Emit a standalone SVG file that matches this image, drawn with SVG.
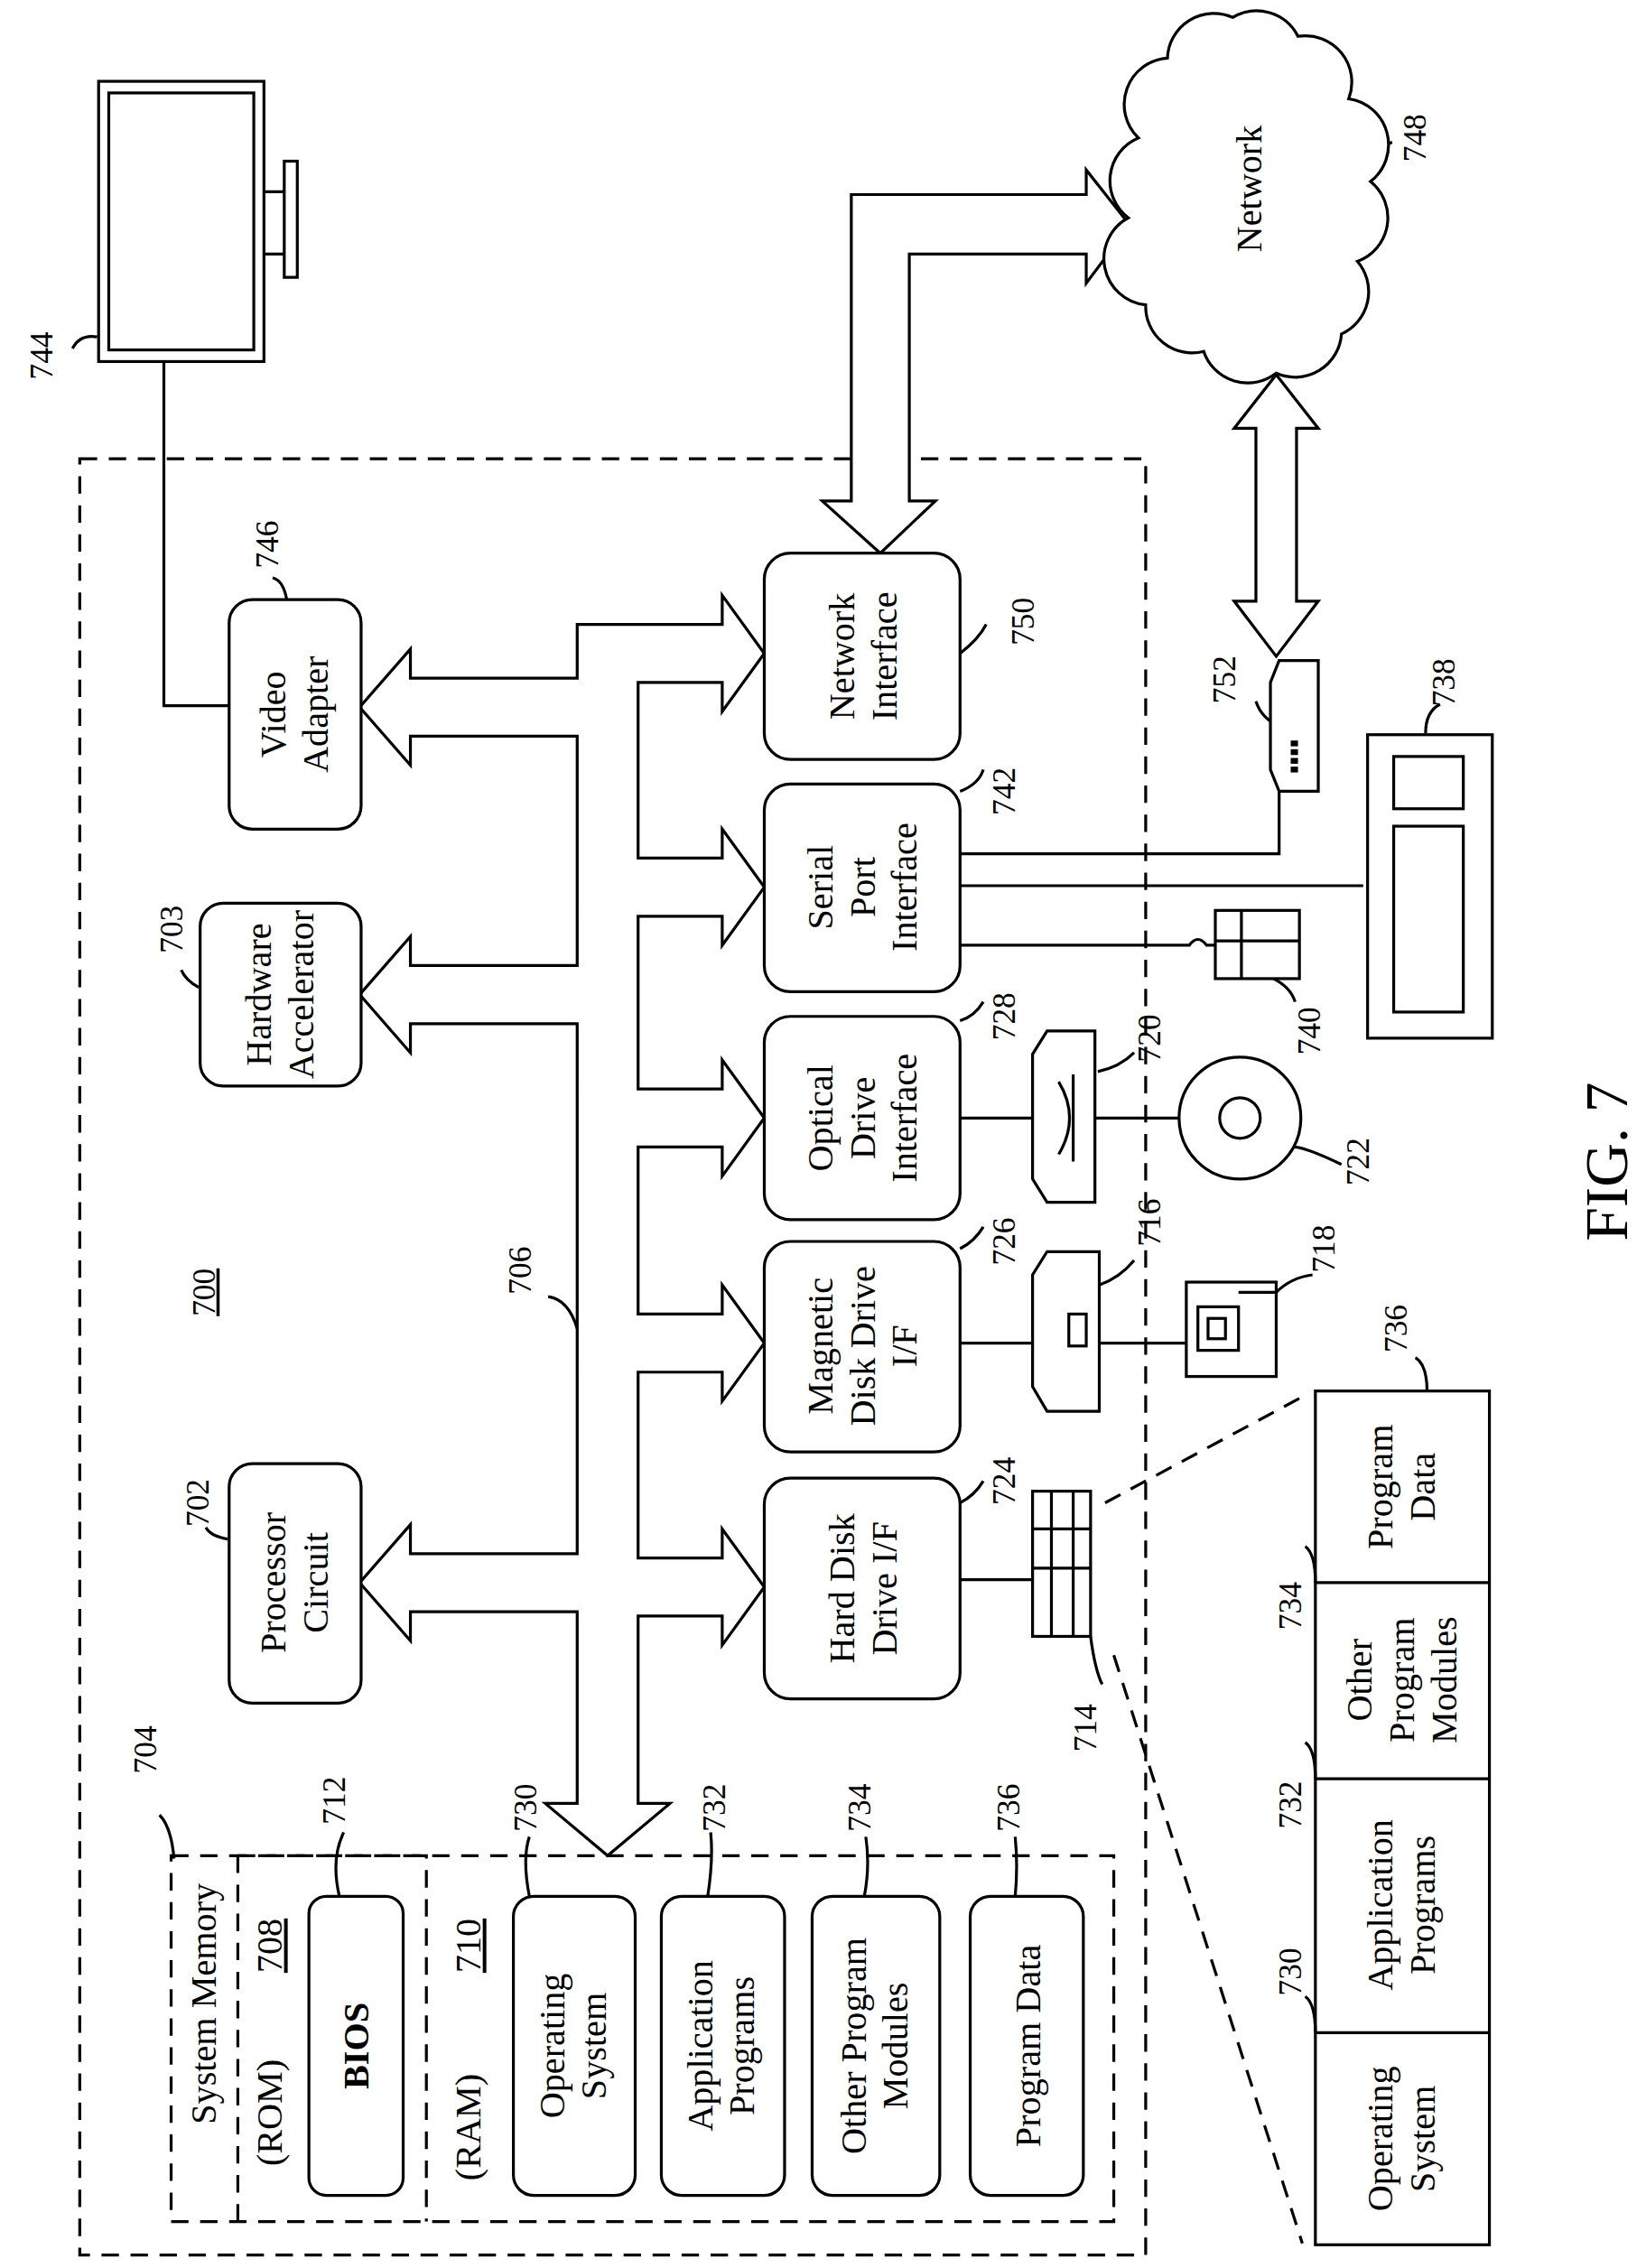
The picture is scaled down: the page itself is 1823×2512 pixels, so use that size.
<svg xmlns="http://www.w3.org/2000/svg" width="1823" height="2512" viewBox="0 0 1823 2512">
<style>
.s{fill:none;stroke:#000;stroke-width:2}
.d{fill:none;stroke:#000;stroke-width:2;stroke-dasharray:12 8}
.n{fill:#fff;stroke:#000;stroke-width:2}
text{font-family:"Liberation Serif","Times New Roman",serif;font-size:25px;fill:#000;text-anchor:middle}
.l{font-size:22px}
</style>
<rect width="1823" height="2512" fill="#fff"/>
<g transform="scale(1.6062,1.6082)">
<rect class="d" x="55" y="316" width="735" height="1237"/>
<text class="l" transform="translate(148,890) rotate(-90)" text-decoration="underline">700</text>

<g id="connectors">
<path class="s" d="M248,487 L283,447 L283,467 L398,467 L398,430 L498,430 L498,410 L527,450 L498,490 L498,470 L440,470 L440,591 L498,591 L498,571 L527,611 L498,651 L498,631 L440,631 L440,750 L498,750 L498,730 L527,770 L498,810 L498,790 L440,790 L440,905 L498,905 L498,885 L527,925 L498,965 L498,945 L440,945 L440,1073 L498,1073 L498,1053 L527,1093 L498,1133 L498,1113 L440,1113 L440,1242 L462,1242 L419,1278 L376,1242 L398,1242 L398,1110 L283,1110 L283,1130 L248,1090 L283,1050 L283,1070 L398,1070 L398,705 L283,705 L283,725 L248,685 L283,645 L283,665 L398,665 L398,507 L283,507 L283,527 Z"/>
<path class="n" d="M587,134 L749,134 L749,117 L779,155 L749,195 L749,175 L627,175 L627,345 L645,345 L607,381 L567,345 L587,345 Z"/>
<path class="n" d="M880,258 L909,295 L894,295 L894,414 L909,414 L880,452 L851,414 L866,414 L866,295 L851,295 Z"/>
<path class="s" d="M113,249 L113,486 L158,486"/>
<path class="s" d="M662,588 L882,588 L882,545 M662,610 L940,610 M662,651 L820,651 Q826,643 832,651 L838,651"/>
<path class="s" d="M662,770 L813,770 M662,925 L818,925 M662,1088 L712,1088"/>
<path class="d" d="M762,1035 L898,962 M768,1140 L898,1545"/>
<path class="s" d="M67,232 Q55,230 50,240 M198,415 Q196,400 188,398 M137,680 Q128,675 125,668 M157,1060 Q145,1058 142,1052 M398,915 Q392,895 378,893 M662,450 Q675,440 680,430 M662,545 Q675,540 678,530 M662,703 Q672,700 678,690 M662,860 Q672,855 678,845 M662,1035 Q672,1030 678,1020 M942,118 Q950,100 960,98 M882,500 Q870,495 866,483 M983,505 Q983,490 993,485 M878,674 Q890,680 893,690 M757,738 Q772,735 782,725 M758,885 Q772,880 782,868 M880,890 Q890,880 905,878 M752,1127 Q755,1150 760,1160 M892,790 Q900,790 925,802 M120,1280 Q118,1258 110,1250 M234,1306 Q228,1280 237,1262 M365,1306 Q360,1280 365,1265 M488,1306 Q492,1280 490,1262 M596,1306 Q600,1285 597,1265 M700,1306 Q702,1285 700,1265 M907,1400 Q907,1380 900,1375 M907,1225 Q907,1205 900,1200 M907,1090 Q907,1070 900,1065 M984,958 Q984,940 976,935"/>
</g>

<g id="n744"><rect class="s" x="68" y="56" width="114" height="193"/><rect class="s" x="75" y="64" width="100" height="177"/><path class="s" d="M182,132 L196,132 M182,175 L196,175"/><rect class="s" x="196" y="111" width="9" height="80"/><text class="l" transform="translate(36,245) rotate(-90)">744</text></g>
<g id="n748"><path class="n" d="M805,40 A32,32 0 0 1 850,12 A32,32 0 0 1 895,25 A32,32 0 0 1 930,68 A32,32 0 0 1 945,125 A32,32 0 0 1 936,180 A32,32 0 0 1 925,230 A32,32 0 0 1 880,257 A32,32 0 0 1 830,242 A32,32 0 0 1 790,210 A32,32 0 0 1 778,150 A32,32 0 0 1 785,95 A32,32 0 0 1 805,40 Z"/><text transform="translate(870,130) rotate(-90)">Network</text><text class="l" transform="translate(983,95) rotate(-90)">748</text></g>
<g id="n746"><rect class="n" x="158" y="413" width="91" height="158" rx="16"/><text transform="translate(197,492) rotate(-90)">Video</text><text transform="translate(226,492) rotate(-90)">Adapter</text><text class="l" transform="translate(192,375) rotate(-90)">746</text></g>
<g id="n703"><rect class="n" x="138" y="622" width="111" height="126" rx="16"/><text transform="translate(187,685) rotate(-90)">Hardware</text><text transform="translate(216,685) rotate(-90)">Accelerator</text><text class="l" transform="translate(126,640) rotate(-90)">703</text></g>
<g id="n702"><rect class="n" x="158" y="1008" width="91" height="165" rx="16"/><text transform="translate(197,1090) rotate(-90)">Processor</text><text transform="translate(226,1090) rotate(-90)">Circuit</text><text class="l" transform="translate(144,1035) rotate(-90)">702</text></g>
<text class="l" transform="translate(366,875) rotate(-90)">706</text>
<g id="n750"><rect class="n" x="527" y="381" width="135" height="142" rx="18"/><text transform="translate(589,452) rotate(-90)">Network</text><text transform="translate(618,452) rotate(-90)">Interface</text><text class="l" transform="translate(713,428) rotate(-90)">750</text></g>
<g id="n742"><rect class="n" x="527" y="540" width="135" height="143" rx="18"/><text transform="translate(574,611) rotate(-90)">Serial</text><text transform="translate(603,611) rotate(-90)">Port</text><text transform="translate(632,611) rotate(-90)">Interface</text><text class="l" transform="translate(700,545) rotate(-90)">742</text></g>
<g id="n728"><rect class="n" x="527" y="700" width="135" height="140" rx="18"/><text transform="translate(574,770) rotate(-90)">Optical</text><text transform="translate(603,770) rotate(-90)">Drive</text><text transform="translate(632,770) rotate(-90)">Interface</text><text class="l" transform="translate(700,700) rotate(-90)">728</text></g>
<g id="n726"><rect class="n" x="527" y="855" width="135" height="145" rx="18"/><text transform="translate(574,927) rotate(-90)">Magnetic</text><text transform="translate(603,927) rotate(-90)">Disk Drive</text><text transform="translate(632,927) rotate(-90)">I/F</text><text class="l" transform="translate(700,855) rotate(-90)">726</text></g>
<g id="n724"><rect class="n" x="527" y="1018" width="135" height="152" rx="18"/><text transform="translate(589,1094) rotate(-90)">Hard Disk</text><text transform="translate(618,1094) rotate(-90)">Drive I/F</text><text class="l" transform="translate(700,1020) rotate(-90)">724</text></g>
<g id="n752"><path class="n" d="M882,455 L909,455 L909,545 L882,545 L876,530 L876,470 Z"/><rect x="890" y="510" width="5" height="4"/><rect x="890" y="516" width="5" height="4"/><rect x="890" y="522" width="5" height="4"/><rect x="890" y="528" width="5" height="4"/><text class="l" transform="translate(852,468) rotate(-90)">752</text></g>
<g id="n738"><rect class="s" x="943" y="506" width="86" height="209"/><rect class="s" x="961" y="521" width="48" height="36"/><rect class="s" x="961" y="569" width="48" height="128"/><text class="l" transform="translate(1003,470) rotate(-90)">738</text></g>
<g id="n740"><rect class="n" x="838" y="627" width="58" height="47"/><path class="s" d="M838,648 L896,648 M856,627 L856,674"/><text class="l" transform="translate(910,710) rotate(-90)">740</text></g>
<g id="n720"><path class="n" d="M722,710 L755,710 L755,828 L722,828 L712,812 L712,726 Z"/><path class="s" d="M730,745 Q745,770 730,795 M740,740 L740,800"/><text class="l" transform="translate(800,715) rotate(-90)">720</text></g>
<g id="n722"><circle class="n" cx="855" cy="770" r="42"/><circle class="s" cx="855" cy="770" r="14"/><text class="l" transform="translate(944,800) rotate(-90)">722</text></g>
<g id="n716"><path class="n" d="M722,862 L758,862 L758,972 L722,972 L712,955 L712,878 Z"/><rect class="s" x="737" y="905" width="12" height="22"/><text class="l" transform="translate(800,842) rotate(-90)">716</text></g>
<g id="n718"><rect class="n" x="818" y="883" width="62" height="65"/><rect class="s" x="826" y="900" width="28" height="30"/><rect class="s" x="833" y="908" width="12" height="14"/><path class="s" d="M854,890 L880,890"/><text class="l" transform="translate(920,860) rotate(-90)">718</text></g>
<g id="n714"><rect class="n" x="712" y="1027" width="40" height="100"/><path class="s" d="M712,1053 L752,1053 M712,1080 L752,1080 M725,1027 L725,1127 M740,1027 L740,1127"/><text class="l" transform="translate(756,1190) rotate(-90)">714</text></g>

<g id="n704"><rect class="d" x="118" y="1278" width="650" height="252"/><text transform="translate(149,1380) rotate(-90)">System Memory</text><text class="l" transform="translate(108,1205) rotate(-90)">704</text></g>
<g id="n708"><path class="d" d="M164,1278 L164,1530 M164,1278 L294,1278 L294,1530"/><text transform="translate(194,1455) rotate(-90)">(ROM)</text><text transform="translate(194,1340) rotate(-90)" text-decoration="underline">708</text><rect class="n" x="213" y="1306" width="65" height="206" rx="12"/><text transform="translate(254,1409) rotate(-90)" font-weight="bold">BIOS</text><text class="l" transform="translate(238,1240) rotate(-90)">712</text></g>
<g id="n710"><text transform="translate(331,1465) rotate(-90)">(RAM)</text><text transform="translate(331,1340) rotate(-90)" text-decoration="underline">710</text></g>
<g id="n730"><rect class="n" x="354" y="1306" width="84" height="206" rx="14"/><text transform="translate(389,1409) rotate(-90)">Operating</text><text transform="translate(418,1409) rotate(-90)">System</text><text class="l" transform="translate(370,1245) rotate(-90)">730</text></g>
<g id="n732"><rect class="n" x="456" y="1306" width="85" height="206" rx="14"/><text transform="translate(491,1409) rotate(-90)">Application</text><text transform="translate(520,1409) rotate(-90)">Programs</text><text class="l" transform="translate(500,1245) rotate(-90)">732</text></g>
<g id="n734"><rect class="n" x="560" y="1306" width="88" height="206" rx="14"/><text transform="translate(597,1409) rotate(-90)">Other Program</text><text transform="translate(626,1409) rotate(-90)">Modules</text><text class="l" transform="translate(600,1245) rotate(-90)">734</text></g>
<g id="n736"><rect class="n" x="669" y="1306" width="78" height="206" rx="14"/><text transform="translate(717,1409) rotate(-90)">Program Data</text><text class="l" transform="translate(703,1245) rotate(-90)">736</text></g>

<g id="table">
<rect class="s" x="907" y="958" width="120" height="588"/>
<path class="s" d="M907,1090 L1027,1090 M907,1225 L1027,1225 M907,1400 L1027,1400"/>
<text transform="translate(960,1024) rotate(-90)">Program</text><text transform="translate(989,1024) rotate(-90)">Data</text>
<text transform="translate(946,1157) rotate(-90)">Other</text><text transform="translate(975,1157) rotate(-90)">Program</text><text transform="translate(1004,1157) rotate(-90)">Modules</text>
<text transform="translate(960,1312) rotate(-90)">Application</text><text transform="translate(989,1312) rotate(-90)">Programs</text>
<text transform="translate(960,1473) rotate(-90)">Operating</text><text transform="translate(989,1473) rotate(-90)">System</text>
<text class="l" transform="translate(970,915) rotate(-90)">736</text>
<text class="l" transform="translate(897,1106) rotate(-90)">734</text>
<text class="l" transform="translate(897,1243) rotate(-90)">732</text>
<text class="l" transform="translate(897,1358) rotate(-90)">730</text>
</g>
<text transform="translate(1122,800) rotate(-90)" style="font-size:42px">FIG. 7</text>
</g>
</svg>
